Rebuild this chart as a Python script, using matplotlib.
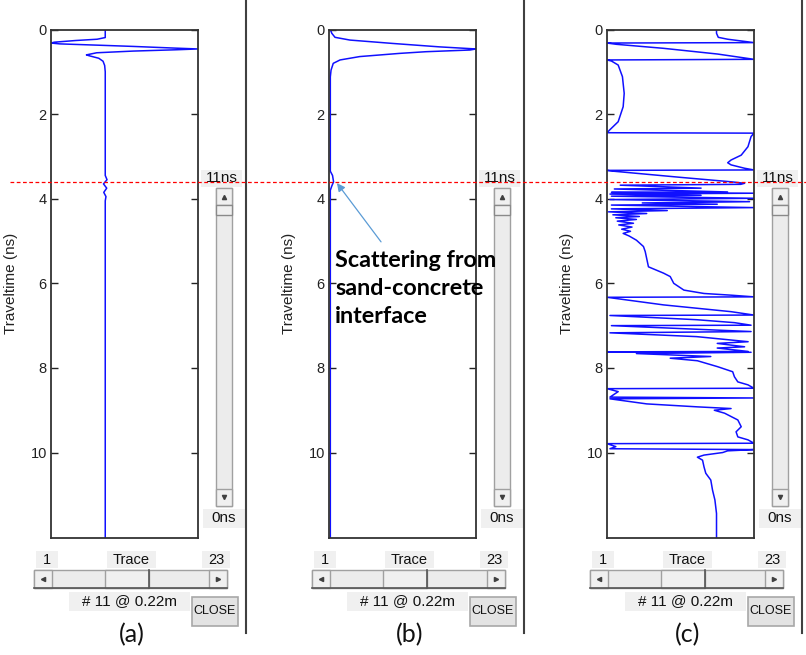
import matplotlib
matplotlib.use('Agg')
import matplotlib.pyplot as plt
from matplotlib.patches import Rectangle
from matplotlib.transforms import blended_transform_factory

plt.rcParams['font.family'] = ['Liberation Sans', 'DejaVu Sans']

# traveltime (ns) and trace amplitude (percent of plot width, 0 = trace baseline)
time_a = [0.0, 0.19, 0.23, 0.26, 0.30, 0.32, 0.34, 0.37, 0.40, 0.44, 0.46, 0.48, 0.51,
          0.55, 0.60, 0.62, 0.68, 0.75, 0.85, 1.0, 3.45, 3.55, 3.65, 3.75, 3.85, 3.95, 4.05, 12.1]
amp_a = [0, 0, -5.5, -20, -34.7, -36.9, -31, -5.5, 19, 47.5, 63.1, 47.5, 19,
         -5.8, -12.8, -11, -4.4, -1.5, -0.4, 0, 0, 1.2, -1.2, 1.0, -1.0, 0.5, 0, 0]

time_b = [0.0, 0.09, 0.185, 0.25, 0.33, 0.41, 0.46, 0.485, 0.525, 0.565, 0.64, 0.72,
          0.80, 0.96, 1.12, 3.35, 3.45, 3.6, 3.7, 3.8, 12.1]
amp_b = [0, 1, 3.2, 13.4, 42.6, 74, 99.1, 95, 65, 47, 20, 6.6,
         2, 0.5, 0, 0, 1.5, 2.2, 1, 0, 0]

time_c = [0.0, 0.09, 0.185, 0.23, 0.28, 0.31, 0.32, 0.35, 0.445, 0.58, 0.705, 0.72, 0.745,
          0.84, 1.115, 1.51, 1.825, 2.18, 2.375, 2.44, 2.45, 2.53, 2.77, 2.97, 3.085, 3.15,
          3.2, 3.28, 3.32, 3.33, 3.345, 3.495, 3.6, 3.635, 3.66, 3.68, 3.75, 3.77, 3.84,
          3.85, 3.87, 3.89, 3.92, 3.94, 3.99, 4.02, 4.07, 4.10, 4.13, 4.15, 4.21, 4.24,
          4.28, 4.31, 4.35, 4.38, 4.42, 4.45, 4.49, 4.53, 4.58, 4.62, 4.67, 4.72, 4.77,
          4.82, 4.88, 4.98,
          5.13, 5.25, 5.61, 5.76, 5.84, 6.0, 6.16, 6.24, 6.28, 6.32, 6.33, 6.51, 6.67,
          6.75, 6.76, 6.86, 6.93, 6.99, 7.0, 7.06, 7.14, 7.17, 7.26, 7.38, 7.42, 7.5,
          7.53, 7.61, 7.62, 7.63, 7.66, 7.73, 7.77, 7.83, 7.97, 8.09, 8.21, 8.33, 8.40,
          8.48, 8.49, 8.56, 8.64, 8.69, 8.71, 8.73, 8.85, 8.92, 8.96, 9.0, 9.07, 9.23,
          9.39, 9.51, 9.63, 9.70, 9.78, 9.79, 9.86, 9.91, 9.93, 9.96, 10.0, 10.06, 10.11,
          10.18, 10.34, 10.49, 10.65, 10.89, 11.12, 11.44, 12.1]
amp_c = [0, 0, 1.2, 7.6, 19.1, 25.5, -74.5, -68.1, -36, 0.7, 25.5, -74.5, -71.5,
         -66.9, -64, -62.8, -63.5, -66.9, -72.7, -74.5, 25.5, 23.5, 21.4, 16.8, 9.9, 7.6,
         9.9, 19.1, 25.5, -74.5, -71.5, -24.5, 9.9, 19.1, 16.5, -65.5, -10.5, -69.5, 7.5,
         -71.5, 25.5, -72.5, -10.5, -71.5, 25.5, -72.5, 22.5, -50.5, 0.5, -71.5, 25.5, -71.5,
         -33.5, -73.5, -47.5, -70.5, -52.5, -68.5, -54.5, -67.5, -56.5, -66.5, -57.5, -64.5, -58.5,
         -63.5, -59.5, -54.5,
         -49.7, -48.5, -46.3, -36, -31.5, -29.1, -22.2, -8.5, 9.9, 25.5, -74.5, -36, 9.9,
         25.5, -72.5, -13.5, 12.3, 23.5, -71.5, -31.5, 23.5, -72.5, -13.5, 21.5, 0.5, 19.1,
         0.5, 21.5, -74.5, 23.5, -54.5, -3.9, -31.5, -13, 0.7, 11, 12.2, 14.5, 21.4,
         25.5, -74.5, -66.9, -70.4, -72.5, 25.5, -72.5, -47.5, -13, 9.9, -1.5, 5.5, 14.5,
         16.8, 13.3, 14.5, 21.4, 25.5, -74.5, -68.5, -72.5, 25.5, 7.5, 4.2, -8.5, -13,
         -9.5, -8.5, -7.3, -3.9, -2.7, -1.1, 0, 0]

# plot-width range of each panel (left, right) in the same amplitude units
xlims = [(-36.9, 63.1), (-0.9, 99.1), (-74.5, 25.5)]
panel_labels = ['(a)', '(b)', '(c)']
yticks = [0, 2, 4, 6, 8, 10]
t_marker = 3.6   # sand-concrete interface

W, H = 806, 655
fig = plt.figure(figsize=(W / 100, H / 100), dpi=100)

traces = [(time_a, amp_a), (time_b, amp_b), (time_c, amp_c)]
axes = []
for i, (t, a) in enumerate(traces):
    dx = 278 * i
    ax = fig.add_axes([(51 + dx) / W, 1 - 538 / H, 147 / W, 508.5 / H])
    ax.plot(a, t, color='#1010ff', lw=1.1)
    ax.set_xlim(*xlims[i])
    ax.set_ylim(12.02, 0)
    ax.set_xticks([])
    ax.set_yticks(yticks)
    ax.tick_params(axis='y', direction='in', left=True, right=True, length=5,
                   width=1, labelsize=10.5, pad=3, colors='#222222')
    for s in ax.spines.values():
        s.set_color('#333333')
        s.set_linewidth(1.3)
    ax.set_ylabel('Traveltime (ns)', fontsize=11, color='#222222')
    ax.yaxis.set_label_coords(-33 / 147, 0.5)
    axes.append(ax)

# overlay in pixel coords for the viewer widgets
ov = fig.add_axes([0, 0, 1, 1], zorder=5)
ov.set_xlim(0, W)
ov.set_ylim(H, 0)
ov.axis('off')
ov.patch.set_alpha(0)


def box(x, y, w, h, fc='#f0f0f0', ec='none', lw=1.0):
    ov.add_patch(Rectangle((x, y), w, h, facecolor=fc, edgecolor=ec, lw=lw))


def label(x, y, s, size=10.5):
    ov.text(x, y, s, ha='center', va='center', fontsize=size, color='#111111')


for i in range(3):
    dx = 278 * i
    # vertical time scrollbar
    box(201 + dx, 170, 41, 17)
    label(222 + dx, 178.5, '11ns', size=11)
    box(216 + dx, 188, 16, 318, fc='#ececec', ec='#a0a0a0')
    box(216 + dx, 188, 16, 17, ec='#a0a0a0')
    box(216 + dx, 205, 16, 10, ec='#8a8a8a')
    box(216 + dx, 489, 16, 17, ec='#a0a0a0')
    ov.plot(224 + dx, 197, marker='^', ms=3, color='#404040')
    ov.plot(224 + dx, 497, marker='v', ms=3, color='#404040')
    box(203 + dx, 509, 42, 19)
    label(224 + dx, 518.5, '0ns', size=11)

    # horizontal trace slider
    box(36 + dx, 551, 22, 17)
    label(47 + dx, 559.5, '1')
    box(107 + dx, 551, 49, 17)
    label(131.5 + dx, 559.5, 'Trace')
    box(202 + dx, 551, 28, 17)
    label(216 + dx, 559.5, '23')
    box(34 + dx, 570, 193, 18, fc='#ececec', ec='#a0a0a0')
    box(34 + dx, 570, 18, 18, ec='#a0a0a0')
    box(105 + dx, 570, 44, 18, ec='#a0a0a0')
    box(209 + dx, 570, 18, 18, ec='#a0a0a0')
    ov.plot([34 + dx, 227 + dx], [588, 588], color='#555555', lw=1.2)
    ov.plot([149 + dx, 149 + dx], [570, 588], color='#555555', lw=1.2)
    ov.plot(43 + dx, 579, marker='<', ms=3, color='#404040')
    ov.plot(218 + dx, 579, marker='>', ms=3, color='#404040')
    box(69 + dx, 592, 121, 19)
    label(129.5 + dx, 601.5, '# 11 @ 0.22m', size=11)
    box(192 + dx, 597, 46, 29, fc='#e3e3e3', ec='#a8a8a8', lw=1.2)
    label(215 + dx, 611.5, 'CLOSE', size=9)

    ov.text(132 + dx, 635, panel_labels[i], ha='center', va='center',
            fontsize=18, family='Lato', color='#111111')

    # separators
    ov.plot([246 + dx, 246 + dx], [0, 633], color='#404040', lw=1.5)

# annotation in panel (b)
axes[1].annotate('', xy=(4.5, 3.63), xytext=(34.5, 5.02),
                 arrowprops=dict(arrowstyle='-|>', color='#5b9bd5', lw=0.9,
                                 mutation_scale=12, shrinkA=0, shrinkB=0))
ov.text(335, 250, 'Scattering from\nsand-concrete\ninterface', ha='left', va='top',
        fontsize=16.8, fontweight='bold', family='Lato', color='black', linespacing=1.4)

# red dashed marker across all panels
tr = blended_transform_factory(ov.transData, axes[0].transData)
ov.plot([10, W], [t_marker, t_marker], transform=tr, color='red', lw=0.9,
        ls=(0, (3, 2)), zorder=10)

fig.savefig('out.png', dpi=100, facecolor='white')
